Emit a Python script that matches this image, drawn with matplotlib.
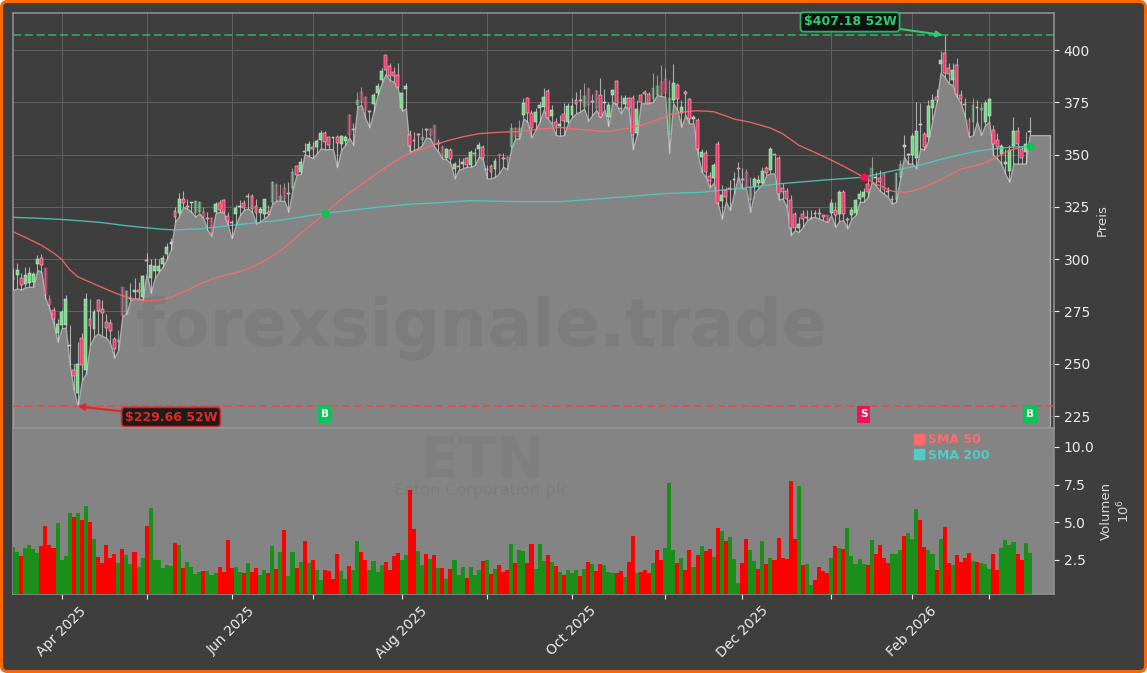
import numpy as np
import matplotlib
matplotlib.use("Agg")
import matplotlib.pyplot as plt
from matplotlib.lines import Line2D
from matplotlib.patches import FancyBboxPatch
from matplotlib.transforms import IdentityTransform

opens = [
    290.0,292.4,291.2,288.1,288.4,289.2,297.6,300.8,295.6,281.2,
    275.6,264.5,268.4,268.4,258.4,247.2,235.8,262.5,247.2,271.6,
    266.4,280.4,276,270,269.6,262,260.5,286.5,274,280.8,
    284.5,285.2,282,299.4,291.1,294.3,294.4,297.6,302.4,307.5,
    323.1,321.9,329,325.2,327,322,322.7,322.7,319.5,319.5,
    322.7,327.1,328.2,320.6,317.4,321.4,325,327.1,329.9,330.2,
    325.5,321.9,321.4,322.7,327.5,335.4,328.2,333.8,331.2,333.8,
    344.5,341.8,351.4,351.8,353.7,353.4,356.9,360.1,358.2,358,
    358.2,354.9,356.6,368.9,361.7,373.7,380,377.7,370.5,374.2,
    379.6,385.6,397.6,392.3,389.6,388,372.1,381.5,359.3,356.6,
    359.3,357,361.7,362.2,364.1,355.3,353.7,348.6,352.2,343.2,
    344.2,345.5,348.2,345,350.6,352.6,353.7,342.6,344.7,342.9,
    349.8,348.2,349,353.7,362.5,358.2,368.9,376.9,369.7,365.7,
    372.1,372.9,380.5,368.4,365.7,363.6,369.2,365.7,368.9,376.1,
    376.3,373,381.6,375.3,380.5,378.5,374.5,367.8,378.5,385.3,
    372.1,374.1,376.9,377.2,360.1,378.5,379.8,379.2,376.5,378.5,
    384.8,386,359.3,376,383.2,369.7,379.7,376.4,366.8,366.5,
    349,351,339.7,338.9,355.3,327.9,333.3,333.5,338,343.4,
    337.8,341.8,328.2,334.6,336.5,336.5,343.4,342.6,349.7,348.6,
    333.8,332.5,328.5,321.4,314.7,321.7,320,319.5,321.8,321.8,
    320.5,321,322.1,323.7,321.5,332.2,319.4,321,322.1,329,
    329.8,335.9,337.8,339,338.9,340.9,332.2,328.2,328.2,339.4,
    353.4,349.7,349.7,348.6,364.1,359.8,358.2,372.1,377.7,393.3,
    398.7,391.2,385.6,392.8,378.4,374,366.5,365.7,372.5,371.3,
    365.7,368.6,362,356.9,350.5,345.3,342.2,354,361.2,352.9,
    351.3,361,
]
highs = [
    296,298,293.2,296.4,296.4,294,302,302.4,296,282.8,
    277.2,271.6,275.6,282.8,268.4,250.1,260.5,264.5,283.9,281.2,
    276.4,281.2,280.4,274,271.6,262.9,266,286.8,285.4,288.4,
    290.8,289.2,292.4,303,299.9,300.8,299.9,301.9,307.8,309.9,
    325,331.8,332.7,329,327.5,328.2,327.9,325,322.7,320,
    327.4,328.2,329,322.7,318.7,325.9,328.2,328.2,331.8,331.4,
    329,325,329,325.9,337.5,336.5,335.9,336.2,337,343.4,
    345,348.2,355.7,356.6,356.1,357.7,361.7,361.2,358.9,358.5,
    359.3,359.3,359.3,369.5,365,380,382.1,378,371.3,379.3,
    384,391.2,397.6,393.6,392,393.9,380,384.4,361.7,360.9,
    360.1,362.5,362.5,362.5,364.1,357.7,354.5,353,353,346.6,
    348.2,348.2,349,352.2,353,356.1,354.5,345,345.5,348.2,
    350.4,350.6,349.3,365,363,366.5,376.9,377.7,371.3,372.1,
    375.3,381.7,381.2,373.7,367.3,368.9,374.5,374.5,376.9,380,
    381.6,384,382.4,379.2,380.8,386.4,381.6,375.3,381.6,385.6,
    378.5,378.5,377.7,378.5,376,379.2,380.8,380,388.8,388,
    392.8,391.2,385.6,393.3,384.4,376,380.8,377.3,368.9,367.3,
    352.5,352.1,341.8,345.8,356.6,335.4,334.6,337.8,341.8,346.6,
    343.4,343,339.4,339.4,340.2,344.2,344.5,353.4,349.9,349.3,
    336.2,333.8,330.6,322.6,320.2,323.6,323.4,323.4,323.4,324.7,
    321,321.2,329,327.4,333,333,320.2,325,329,333.3,
    333.8,339.4,348.9,341.8,342.6,341.8,334.6,330.6,341.8,347.3,
    359.3,350.9,360.1,375.3,374.5,360.9,376,379.2,381.2,399.7,
    407.18,393.6,393.6,396,380.8,376.9,368.1,376.9,376,374.5,
    376,376.9,364.1,360.1,355.3,352.9,354.5,368.1,363.3,353.7,
    360.9,368.1,
]
lows = [
    285.2,286,285.5,286.5,286.8,286.8,294.8,294,281.2,276.4,
    269.2,260.5,266.9,267.3,249.4,237.3,229.66,242.1,245.3,258.9,
    262.9,264.5,263.2,262.5,259.7,253,256.5,272.8,274,280.4,
    281.2,281.2,280.7,293.2,284,290.8,294,296.4,300.3,304.6,
    317.9,320.6,325,324.2,322.7,320.3,321.9,319.5,314,311,
    321.9,322.7,322.2,316.3,309.9,316.3,321,323.5,324.2,322.7,
    317,317.9,319.5,321,326.6,328,328,327.9,322.6,333,
    340.2,340.7,350.2,349.3,348.2,350.6,353,352.5,352.6,352.6,
    343.9,352.2,354.5,358.2,354.5,372.9,373.7,367.3,363,370.5,
    378.5,384,388.5,385.6,384.8,381.7,371,372.1,351.4,352.2,
    353,354.5,358.2,357.7,353.7,351.4,348.2,347.7,345.8,338.6,
    342.6,343.4,344.2,344.2,345,349,347.7,338.6,338.6,339.4,
    341,344.2,342.9,353,357.7,357.7,367.3,365.7,358.2,362,
    365.7,371.3,367.3,364.6,359.3,359,359.3,364.9,367.8,369.7,
    370.5,372,366.2,368.9,371.3,367.8,371.6,363.6,375.3,373.7,
    369.7,372.9,371.6,352.5,359.3,374.5,374.5,374.5,375.3,378.4,
    378,377.6,350.9,374.5,371.3,363.3,368.9,364.9,364.9,350.5,
    341.8,339.4,334.3,336.5,326.6,319.4,327.4,323.4,331.4,339.7,
    333.8,333.8,322.6,331.7,333.8,335.9,340.2,341,341,328.5,
    329,325,311.5,313.9,313,315.4,318.5,320,320.2,319.4,
    318.6,317.8,321,315.4,318.3,318.6,314.7,319.4,321,327.4,
    327.4,329.8,337,335.4,332.7,331.4,329.8,326.6,327.4,338.6,
    348.9,345.7,345.7,343.4,352.9,352.4,356.9,366.5,375,389.1,
    387.2,384,383.2,377.6,374.5,368.1,358.5,359.3,365.7,359.3,
    364.1,365.7,349.7,348.1,345.7,340.6,337,345.7,345.7,345.7,
    345.7,359.3,
]
closes = [
    291.6,294.8,287.6,292.4,293.2,292.8,300.3,297.2,282.8,278,
    271.6,269.2,274.8,281.2,259,244.2,250.1,249.3,281.2,268.1,
    274.8,275.3,274.4,266.9,265.8,257.3,261.5,273.2,285,281.5,
    285.2,284.5,292,299,297.2,296.8,296.7,300.8,305.6,308,
    320.3,329,327,325.1,327,327.9,327.4,320.3,319.3,312.3,
    326.6,323.5,322.7,318.4,317.2,324.3,325.1,324.6,329.8,323.9,
    322.2,323.8,328.6,321.6,337,328.2,330,329,331,341.8,
    340.2,346.3,351.2,354.9,352.6,356.5,360.1,356.1,354.5,358,
    355.7,358.9,358.2,359.3,361.6,376.1,375.3,371.3,370.4,378.5,
    382.8,390.1,390.4,387.6,387.7,382.5,379.3,382.8,354.1,356.5,
    359.2,358.5,361.6,359.3,355.3,355.1,349,352.5,347.7,345.3,
    344.1,346.6,345,351.4,350.5,354.5,348.2,342.5,341.8,347,
    349.7,348.1,347.4,362.5,358.5,362.5,374.5,370,362.5,370.2,
    373.7,377.4,367.3,371.3,363.6,364.6,366.2,373.2,373.2,374.3,
    375.6,378,373.7,375.2,372.1,368.1,374.7,373.7,380.8,374.1,
    372,377.2,372.4,359.3,371.6,375.3,379,374.8,382,383,
    378.5,379.3,376.9,384,376.4,372.6,379,366.8,368.1,352.5,
    351.3,341.8,337.5,345,326.9,330.9,329.5,333.4,338.1,343.3,
    337.7,334.6,334.6,338.3,338.1,342.2,341,352.6,349.6,331.1,
    332.2,329,315.1,315.1,317,319.4,319.9,319.4,321.7,321.7,
    320.4,317.8,326.9,321,332.2,321.5,318.8,323.7,328.2,331.4,
    332.2,332.2,343.4,339,337,333,332.1,328.1,341,345.7,
    354.5,349.8,358.8,361.4,364.2,353.7,373.2,376,376,395.2,
    389.1,388.5,390.4,378.9,376.4,373.9,360.1,373.7,372.6,372.5,
    374.8,376.4,355,353.7,354,346.6,352.4,361.2,355.3,348.6,
    355,361,
]
volumes = [
    3.36,3.03,2.76,3.29,3.49,3.23,2.96,3.43,4.75,3.49,
    3.29,4.95,2.5,2.76,5.6,5.35,5.6,5.15,6.08,5.0,
    3.89,2.7,2.3,3.49,2.63,2.9,2.3,3.23,2.83,2.23,
    3.03,2.03,2.63,4.75,5.95,2.5,2.5,1.97,2.16,2.1,
    3.63,3.49,1.97,2.36,2.03,1.57,1.7,1.77,1.77,1.5,
    1.63,2.03,1.7,3.82,1.97,2.03,1.7,1.63,2.3,1.7,
    1.97,1.5,1.83,1.63,3.43,1.9,3.03,4.49,1.43,3.03,
    1.97,2.36,3.76,2.3,2.5,1.83,1.17,1.83,1.77,1.24,
    2.9,1.77,1.24,2.1,1.83,3.76,3.03,2.5,1.83,2.43,
    1.7,2.16,2.36,1.83,2.76,2.96,2.5,2.83,7.14,4.55,
    3.09,2.16,2.9,2.56,2.83,1.97,1.97,1.24,1.9,2.5,
    1.5,2.03,1.3,2.03,1.5,1.83,2.43,2.5,1.57,1.9,
    2.16,1.7,1.83,3.56,2.3,3.16,3.09,2.3,3.56,1.9,
    3.56,2.43,2.83,2.36,2.1,1.7,1.5,1.83,1.63,1.83,
    1.43,1.9,2.36,2.23,1.77,2.23,2.16,1.7,1.63,1.63,
    1.77,1.37,2.36,4.09,1.63,1.7,1.83,1.63,2.3,3.16,
    2.5,3.29,7.6,3.16,2.3,2.63,1.83,3.16,2.03,2.83,
    3.43,3.09,3.23,2.7,4.62,4.42,3.76,4.02,2.56,0.97,
    2.3,3.89,3.16,2.43,1.9,3.76,2.23,2.63,2.5,3.96,
    2.63,2.56,7.74,3.89,7.4,2.16,2.23,0.84,1.17,2.03,
    1.77,1.63,2.63,3.43,3.29,3.23,4.62,2.76,2.23,2.56,
    2.23,2.16,3.82,2.9,3.49,2.63,2.3,2.9,2.9,3.16,
    4.09,4.29,3.89,5.88,5.15,3.36,3.16,2.9,1.83,3.89,
    4.69,2.3,2.16,2.83,2.36,2.63,2.96,2.43,2.36,2.3,
    2.23,1.9,2.9,1.83,3.29,3.82,3.49,3.69,2.9,2.5,
    3.63,2.96,
]
vol_side = (
    "GGRGGGGRRR" "RGGGGRGRGR" "GRRRRRGRGG" "RGGRGGGGGG" "RGRGGGGRGG"
    "GRRRRGGRGR" "RGGRGRGRGG" "RGRGRGGRRR" "RGGRGGRRGG" "GGRRRRGGRR"
    "GGRGRGRGRG" "GGRGGGRGRG" "RRRGRGGRRG" "GGRGRGRGGG" "RGRGRRGGGR"
    "RGRRGRRRGR" "RGGGRGRRGR" "GRRGRGRGGG" "RRGGRGRGRR" "RRRRGRGGRR"
    "RRGRGRGGGG" "GRGRRRRGGG" "RGGGRRGGRG" "RRGRRRRGRG" "GGRRGGGGRR"
    "GG"
)
# candles that show up pale in the picture
faded = [8, 9, 26, 27, 28, 45, 46, 47, 49, 64, 65, 66, 67, 69, 83, 85, 86, 87, 101,
         103, 104, 106, 120, 122, 123, 124, 125, 141, 142, 144, 158, 159, 160, 161,
         162, 181, 182, 201, 212, 215, 218, 219, 236, 237, 239]
last_low = [359.3, 359.3, 359.3, 359.3, 359.3]

sma50_days = [0, 3, 7, 10, 12, 14, 16, 19, 22, 25, 28, 31, 33, 36, 38, 41, 43, 46, 50, 53, 56, 60, 63,
              67, 71, 74, 77, 80, 83, 87, 91, 94, 97, 100, 103, 107, 111, 115, 120, 125, 130, 135,
              140, 147, 151, 155, 159, 162, 166, 169, 173, 176, 178, 182, 187, 190, 194, 198, 202,
              206, 210, 213, 217, 220, 222, 225, 228, 231, 234, 237, 240, 243, 246, 249, 251]
sma50 = [313.1, 310.5, 306.7, 303, 300, 295, 291.6, 289, 286.5, 284, 282, 280.5, 280.1, 280.4, 281.2,
         283.5, 285.2, 288, 291, 292.6, 294, 297, 300.3, 305.5, 312.3, 317, 322, 327, 331.6, 337,
         342.6, 346.5, 349.8, 352, 354, 356.5, 358.5, 360, 360.7, 361, 362.2, 363, 362, 361, 362.3,
         364, 366.6, 369, 370.5, 371, 370.5, 368.5, 367, 365.5, 362.7, 360, 354.5, 351, 347.4, 343.5,
         339.2, 336, 332.5, 332, 332.5, 334.5, 337, 340, 343, 344.5, 346, 349, 352, 353.5, 354.1]
sma200_days = [0, 6, 12, 17, 22, 28, 33, 37, 40, 46, 52, 58, 64, 70, 77, 84, 91, 98, 105, 113, 124,
               135, 143, 152, 161, 170, 180, 189, 200, 210, 219, 224, 229, 234, 239, 245, 251]
sma200 = [320, 319.6, 319, 318.3, 317.5, 316, 315, 314.3, 314, 314.5, 315.8, 317, 318.2, 319.8, 322,
          323.5, 325, 326.3, 327, 328, 327.5, 327.5, 328.6, 330, 331.4, 332, 334, 336, 337.8, 339.2,
          343, 345, 347.7, 350, 352, 353.3, 354.1]

tick_days = [12, 33, 54, 74, 96, 117, 138, 161, 180, 202, 222, 241]
tick_labels = ["Apr 2025", "", "Jun 2025", "", "Aug 2025", "", "Oct 2025", "", "Dec 2025", "", "Feb 2026", ""]
price_ticks = [225, 250, 275, 300, 325, 350, 375, 400]
vol_ticks = [2.5, 5.0, 7.5, 10.0]

year_high = 407.18
year_low = 229.66
high_day = 230
low_day = 16
signal_days = [77, 210, 251]
signal_kinds = ["B", "S", "B"]
signal_prices = [322, 339.2, 354.1]
signal_y = 225.8

W, H = 1147, 673
BG = "#3e3e3e"
GRAY = "#848484"
UP = "#6fdc82"
DOWN = "#ff2f66"
BUY = "#00c853"
SELL = "#f5114f"

fig = plt.figure(figsize=(W / 100, H / 100), dpi=100, facecolor="white")
fig.add_artist(FancyBboxPatch((1.5, 1.5), W - 3, H - 3, boxstyle="round,pad=0,rounding_size=6",
                              transform=IdentityTransform(), fc=BG, ec="#ff6600", lw=2.2, zorder=-5))

ax = fig.add_axes([13 / W, 1 - 428 / H, (1054 - 13) / W, (428 - 13) / H], facecolor=BG)
ax_v = fig.add_axes([13 / W, 1 - 594 / H, (1054 - 13) / W, (594 - 428) / H], facecolor=GRAY, sharex=ax)

days = np.arange(len(opens))
# candles first, the gray area sits under them on the low line
area_x = np.arange(len(lows) + len(last_low))
area_y = lows + last_low
ax.fill_between(area_x, area_y, 200, facecolor=GRAY, edgecolor="#ababab", lw=1.0, zorder=2)

for i in days:
    a = 0.4 if i in faded else 1.0
    ax.vlines(i, lows[i], highs[i], color="#dcdcdc", lw=0.8, alpha=0.7 if a == 1.0 else 0.55, zorder=3)
    col = UP if closes[i] >= opens[i] else DOWN
    body = abs(closes[i] - opens[i])
    ax.bar(i, max(body, 0.5), bottom=min(opens[i], closes[i]), width=0.72, color=col,
           edgecolor="#e8e8e8", lw=0.35, alpha=a, zorder=4)

ax.plot(sma50_days, sma50, color="#ff6b6b", lw=1.0, alpha=0.85, zorder=5)
ax.plot(sma200_days, sma200, color="#4ecdc4", lw=1.0, alpha=0.85, zorder=5)

ax.axhline(year_high, color="#2ecc71", ls=(0, (4.5, 2)), lw=1.3, alpha=0.7, zorder=3)
ax.axhline(year_low, color="#ff4040", ls=(0, (4.5, 2)), lw=1.3, alpha=0.85, zorder=3)

ax.annotate("$407.18 52W", xy=(high_day - 0.5, year_high), xytext=(850, H - 22), textcoords="figure pixels",
            color="#2ecc71", fontsize=9, fontweight="bold", ha="center", va="center", zorder=8,
            bbox=dict(boxstyle="round,pad=0.25", fc="#0a0a0a", ec="#2ecc71", lw=1.3, alpha=0.85),
            arrowprops=dict(arrowstyle="-|>", color="#2ecc71", lw=1.5, shrinkA=0, shrinkB=0))
ax.annotate("$229.66 52W", xy=(low_day, year_low), xytext=(171, H - 417), textcoords="figure pixels",
            color="#e02828", fontsize=9, fontweight="bold", ha="center", va="center", zorder=8,
            bbox=dict(boxstyle="round,pad=0.25", fc="#0a0a0a", ec="#e02828", lw=1.3, alpha=0.85),
            arrowprops=dict(arrowstyle="-|>", color="#e02828", lw=1.5, shrinkA=0, shrinkB=0))

for d, kind, p in zip(signal_days, signal_kinds, signal_prices):
    c = BUY if kind == "B" else SELL
    ax.scatter([d], [p], s=22, color=c, zorder=7)
    ax.text(d, signal_y, kind, color="white", fontsize=7.5, fontweight="bold", ha="center", va="center", zorder=7,
            bbox=dict(boxstyle="square,pad=0.3", fc=c, ec="none"))

ax.set_xlim(0, 257)
ax.set_ylim(219.3, 417.7)
ax.set_xticks(tick_days)
ax.set_yticks(price_ticks)
ax.yaxis.tick_right()
ax.yaxis.set_label_position("right")
ax.set_ylabel("Preis", color="#d8d8d8", fontsize=9.5, labelpad=4.5)
ax.grid(True, color="#626262", lw=0.7, zorder=1)
ax.set_axisbelow(True)
ax.tick_params(axis="x", length=0, labelbottom=False)
ax.tick_params(axis="y", colors="#ececec", labelsize=10, length=3.5)

bar_colors = ["#1a901a" if s == "G" else "#ff0000" for s in vol_side]
ax_v.bar(days, volumes, width=1.0, color=bar_colors, zorder=3)
ax_v.set_ylim(0.24, 11.26)
ax_v.set_yticks(vol_ticks)
ax_v.set_yticklabels(["2.5", "5.0", "7.5", "10.0"])
ax_v.yaxis.tick_right()
ax_v.yaxis.set_label_position("right")
ax_v.set_ylabel("Volumen\n$10^{6}$", color="#d8d8d8", fontsize=9.5, labelpad=4)
ax_v.set_xticks(tick_days)
ax_v.set_xticklabels(tick_labels, rotation=45, ha="center")
ax_v.tick_params(axis="x", colors="#ececec", labelsize=10, length=3.5)
ax_v.tick_params(axis="y", colors="#ececec", labelsize=10, length=3.5)

for a_ in (ax, ax_v):
    for s in a_.spines.values():
        s.set_color("#949494")
        s.set_linewidth(1.1)

handles = [Line2D([], [], marker="s", ls="", color="#ff6b6b", markersize=7),
           Line2D([], [], marker="s", ls="", color="#4ecdc4", markersize=7)]
ax_v.legend(handles, ["SMA 50", "SMA 200"], loc="upper left", bbox_to_anchor=(0.852, 1.03), frameon=False,
            labelcolor=["#ff6b6b", "#4ecdc4"], prop=dict(size=9, weight="bold"),
            handletextpad=0.05, labelspacing=0.2, handlelength=1.4, borderpad=0.3)

fig.text(482 / W, 1 - 328 / H, "forexsignale.trade", fontsize=47.8, fontweight="bold", color="#000000",
         alpha=0.06, ha="center", va="center", zorder=10)
fig.text(482 / W, 1 - 462 / H, "ETN", fontsize=41, fontweight="bold", color="#000000",
         alpha=0.035, ha="center", va="center", zorder=10)
fig.text(482 / W, 1 - 491 / H, "Eaton Corporation plc", fontsize=11.5, color="#000000",
         alpha=0.05, ha="center", va="center", zorder=10)

fig.savefig("out.png", dpi=100, facecolor=fig.get_facecolor())
